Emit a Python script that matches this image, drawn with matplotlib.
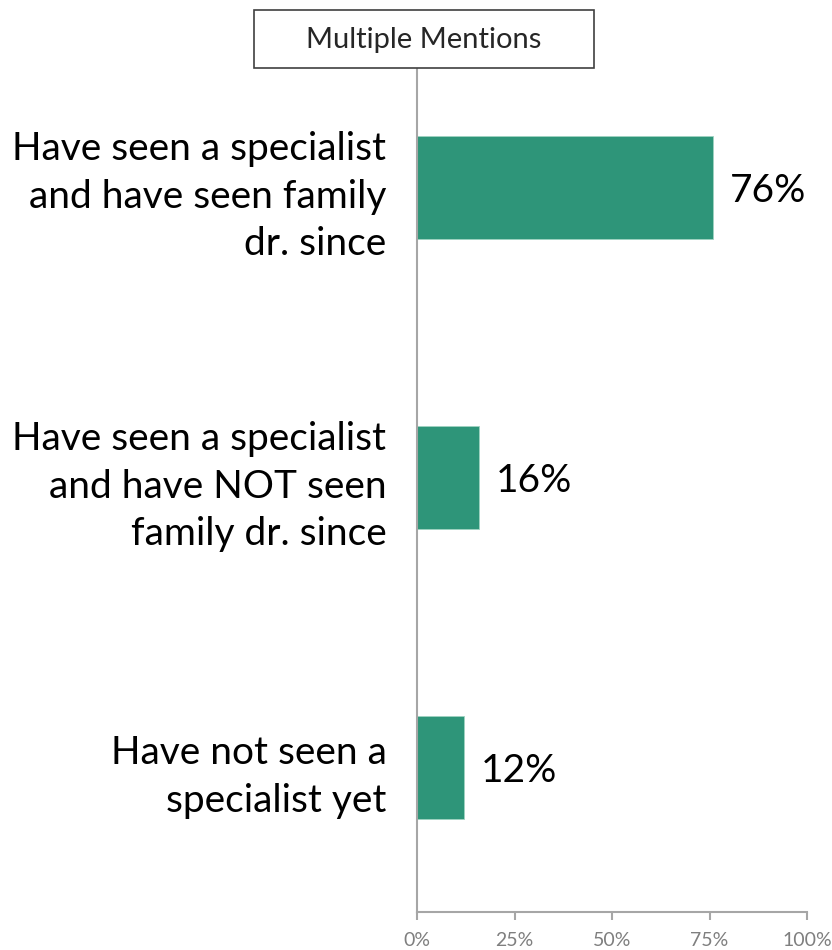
import matplotlib
matplotlib.use("Agg")
from matplotlib import pyplot as plt
from matplotlib.patches import Rectangle

plt.rcParams['font.family'] = ['Lato', 'DejaVu Sans']

# survey answers, top to bottom
categories = [
    "Have seen a specialist\nand have seen family\ndr. since",
    "Have seen a specialist\nand have NOT seen\nfamily dr. since",
    "Have not seen a\nspecialist yet",
]
values = [76, 16, 12]
tick_values = [0, 25, 50, 75, 100]
tick_labels = ["0%", "25%", "50%", "75%", "100%"]

bar_color = "#2E9579"
axis_gray = "#A6A6A6"

fig = plt.figure(figsize=(8.32, 9.5), dpi=100)
ax = fig.add_axes([0.5012, 0.0395, 0.4688, 0.9158])

pos = list(range(len(categories)))
ax.barh(pos, values, height=0.355, color=bar_color, edgecolor="#9fd3c2", linewidth=0.6)

for p, v in zip(pos, values):
    ax.annotate(f"{v}%", xy=(v, p), xytext=(12, 0), textcoords="offset points",
                va="center_baseline", ha="left", fontsize=28, color="black")

ax.set_xlim(0, 100)
ax.set_ylim(2.5, -0.5)
ax.set_xticks(tick_values)
ax.set_xticklabels(tick_labels, fontsize=14, color="#7F7F7F")
ax.set_yticks(pos)
ax.set_yticklabels(categories, fontsize=28, color="black", linespacing=1.4)
ax.tick_params(axis="y", length=0, pad=22)
ax.tick_params(axis="x", length=6, width=1.5, color=axis_gray, pad=8)

for side in ["top", "right"]:
    ax.spines[side].set_visible(False)
for side in ["left", "bottom"]:
    ax.spines[side].set_color(axis_gray)
    ax.spines[side].set_linewidth(1.5)

# note box above the chart
box = Rectangle((254 / 832, 1 - 68 / 950), 340 / 832, 58 / 950, transform=fig.transFigure,
                facecolor="white", edgecolor="#404040", linewidth=1.2, zorder=5)
fig.add_artist(box)
fig.text(424 / 832, 1 - 40 / 950, "Multiple Mentions", ha="center", va="center",
         fontsize=21, color="#262626", zorder=6)

fig.savefig("out.png", dpi=100)
